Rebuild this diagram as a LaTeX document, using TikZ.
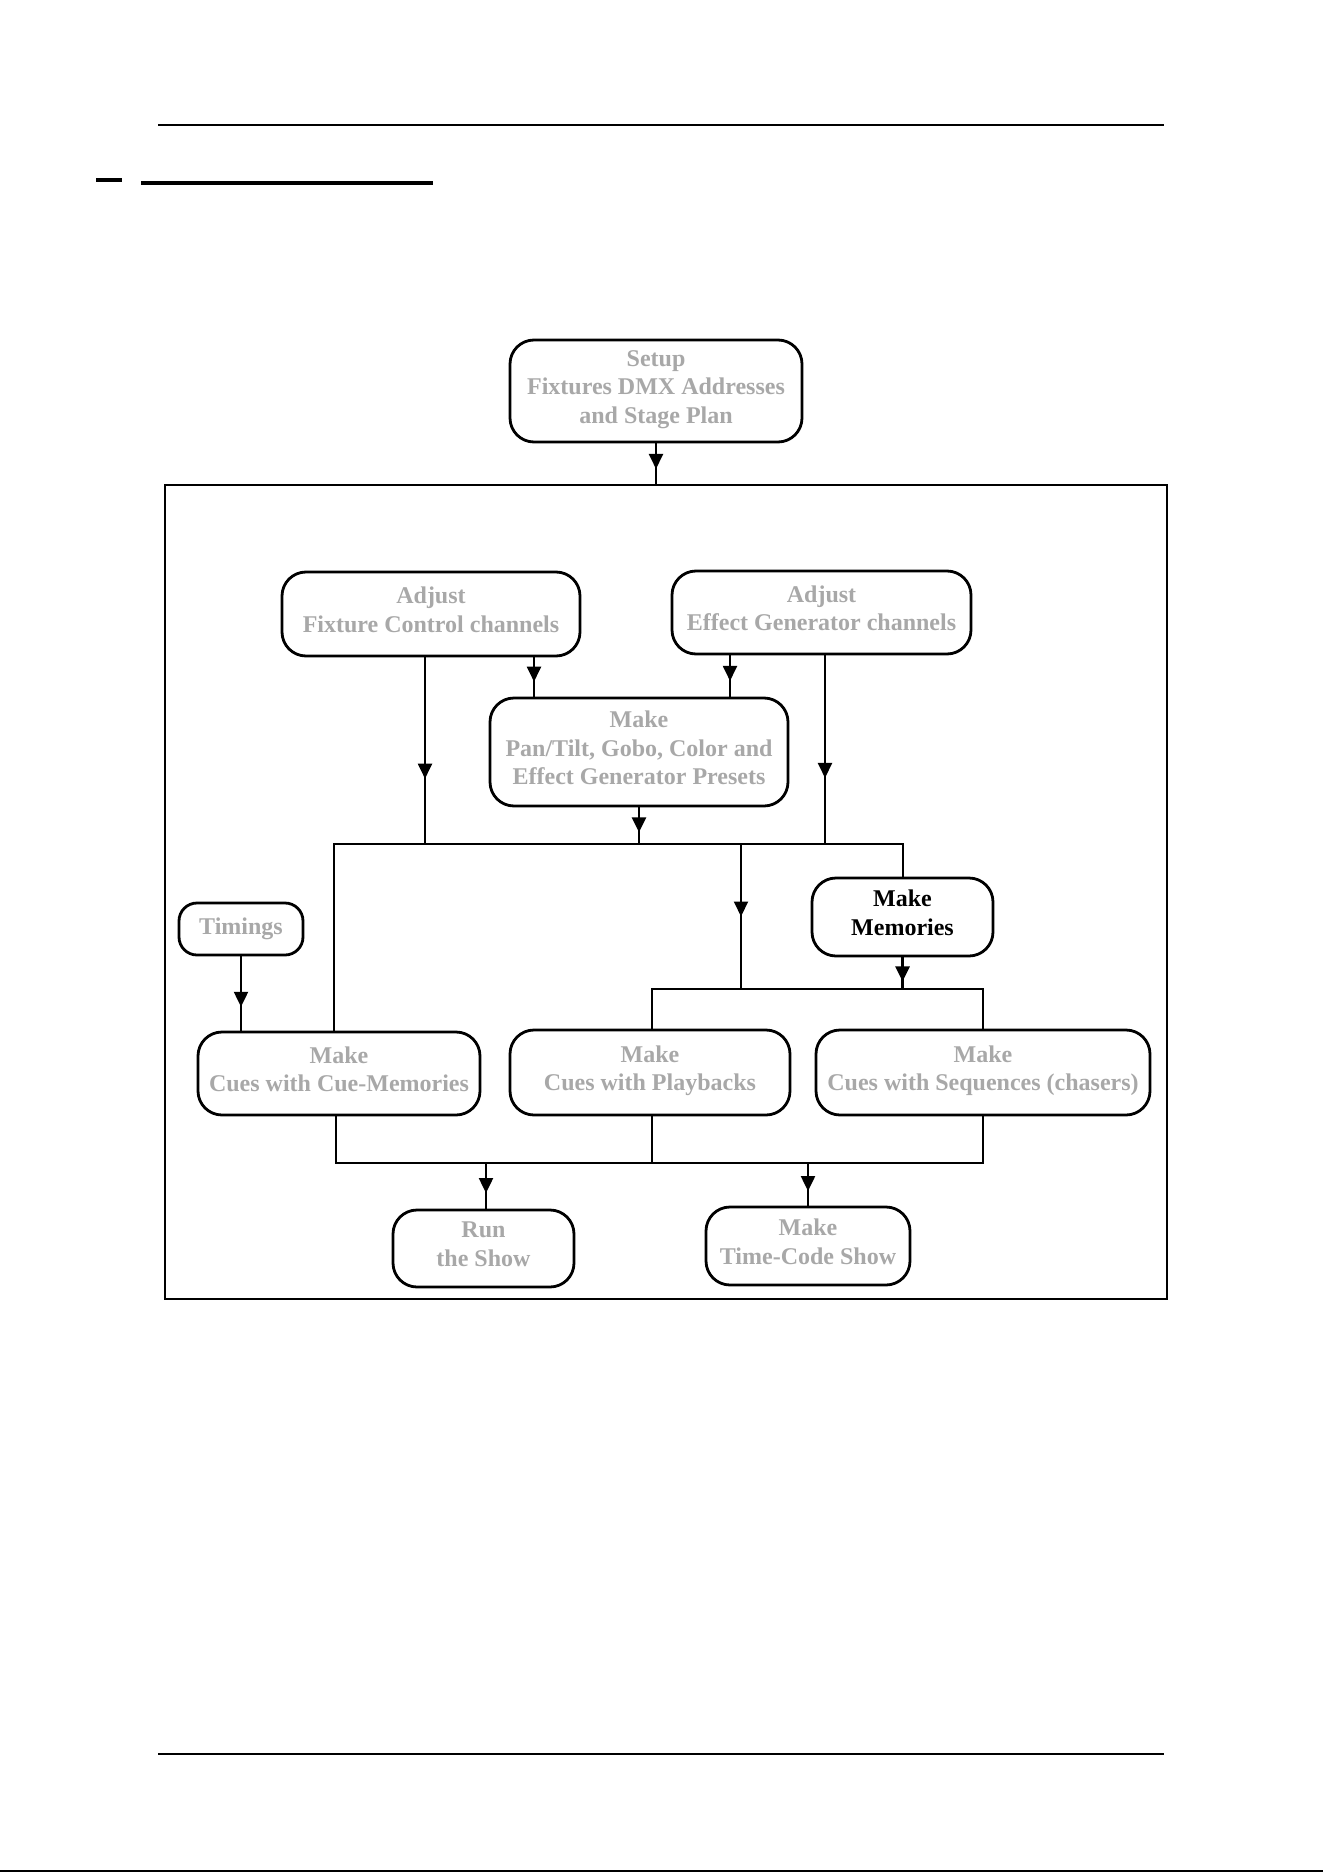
\documentclass[tikz,border=0pt]{standalone}
\usepackage{fontspec}
\setmainfont{Liberation Serif}
\usetikzlibrary{arrows.meta,decorations.markings}
\definecolor{txtgray}{HTML}{A8A8A8}
\tikzset{
  box/.style={draw=black, line width=1.4pt, rounded corners=12pt, align=center,
    font=\bfseries\fontsize{12}{14.3}\selectfont, text=txtgray, inner sep=0pt,
    execute at begin node={\strut}, execute at end node={\strut}},
  conn/.style={line width=1pt},
  marrow/.style={postaction={decorate}, decoration={markings,
    mark=at position #1 with {\arrow{Triangle[width=7pt,length=7.5pt]}}}},
}
\begin{document}
\begin{tikzpicture}[x=0.5pt,y=-0.5pt]
\useasboundingbox (0,0) rectangle (1323,1872);
\fill[white] (0,0) rectangle (1323,1872);
% page rules
\draw[line width=1.2pt] (158,125) -- (1164,125);
\fill (96,178) rectangle (122,182);
\draw[line width=1.75pt] (141,183) -- (433,183);
\draw[line width=1.2pt] (158,1754) -- (1164,1754);
\draw[line width=1pt] (0,1871) -- (1323,1871);
% frame
\node[draw, line width=1pt, minimum width=501pt, minimum height=407pt, inner sep=0pt] (frame) at (666,892) {};
% boxes
\node[box, minimum width=146pt, minimum height=51pt] (setup) at (656,391) {Setup\\Fixtures DMX Addresses\\and Stage Plan};
\node[box, minimum width=149pt, minimum height=42pt] (fix) at (431,614) {Adjust\\Fixture Control channels};
\node[box, minimum width=149.5pt, minimum height=41.5pt] (eff) at (821.5,612.5) {Adjust\\Effect Generator channels};
\node[box, minimum width=149pt, minimum height=54pt] (pre) at (639,752) {Make\\Pan/Tilt, Gobo, Color and\\Effect Generator Presets};
\node[box, minimum width=90.5pt, minimum height=39pt, text=black] (mem) at (902.5,917) {Make\\Memories};
\node[box, minimum width=62pt, minimum height=26pt, rounded corners=9pt] (tim) at (241,929) {Timings};
\node[box, minimum width=141pt, minimum height=41.5pt] (cue) at (339,1073.5) {Make\\Cues with Cue-Memories};
\node[box, minimum width=140pt, minimum height=42.5pt] (pb) at (650,1072.5) {Make\\Cues with Playbacks};
\node[box, minimum width=167pt, minimum height=42.5pt] (seq) at (983,1072.5) {Make\\Cues with Sequences (chasers)};
\node[box, minimum width=90.5pt, minimum height=38.5pt] (run) at (483.5,1248.5) {Run\\the Show};
\node[box, minimum width=102pt, minimum height=39pt] (tc) at (808,1246) {Make\\Time-Code Show};
% helper coordinates
\coordinate (x534) at (534,0);
\coordinate (x730) at (730,0);
\coordinate (x425) at (425,0);
\coordinate (x825) at (825,0);
\coordinate (x741) at (741,0);
\coordinate (x652) at (652,0);
\coordinate (x486) at (486,0);
\coordinate (x808) at (808,0);
\coordinate (busL) at (334,844);
\coordinate (busR) at (903,844);
\coordinate (lbL) at (652,989);
\coordinate (lbR) at (983,989);
\coordinate (bbL) at (336,1163);
\coordinate (bbR) at (983,1163);
% connectors
\draw[conn, marrow=0.63] (setup.south) -- (setup.south |- frame.north);
\draw[conn, marrow=0.62] (fix.south -| x534) -- (pre.north -| x534);
\draw[conn, marrow=0.62] (eff.south -| x730) -- (pre.north -| x730);
\draw[conn, marrow=0.65] (fix.south -| x425) -- (x425 |- busL);
\draw[conn, marrow=0.65] (eff.south -| x825) -- (x825 |- busL);
\draw[conn, line width=1.4pt, marrow=0.68] (pre.south) -- (pre.south |- busL);
\draw[conn] (cue.north -| busL) -- (busL) -- (busR) -- (mem.north -| busR);
\draw[conn, marrow=0.5] (x741 |- busL) -- (x741 |- lbL);
\draw[conn, line width=1.4pt, marrow=0.76] (mem.south) -- (mem.south |- lbL);
\draw[conn] (pb.north -| lbL) -- (lbL) -- (lbR) -- (seq.north -| lbR);
\draw[conn, marrow=0.68] (tim.south) -- (tim.south |- cue.north);
\draw[conn] (cue.south -| bbL) -- (bbL) -- (bbR) -- (seq.south -| bbR);
\draw[conn] (pb.south -| x652) -- (x652 |- bbL);
\draw[conn, marrow=0.66] (x486 |- bbL) -- (run.north -| x486);
\draw[conn, marrow=0.66] (x808 |- bbL) -- (tc.north -| x808);
\end{tikzpicture}
\end{document}
